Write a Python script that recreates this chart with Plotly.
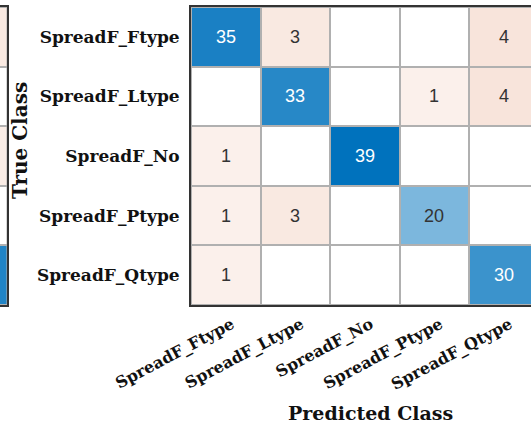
import plotly.graph_objects as go

# Confusion matrix for the spread-F classifier (rows: true, cols: predicted)
classes = ["SpreadF_Ftype", "SpreadF_Ltype", "SpreadF_No", "SpreadF_Ptype", "SpreadF_Qtype"]
counts = [
    [35, 3, 0, 0, 4],
    [0, 33, 0, 1, 4],
    [1, 0, 39, 0, 0],
    [1, 3, 0, 20, 0],
    [1, 0, 0, 0, 30],
]
# last column of the neighbouring matrix panel on the left
neighbour_last_col = [3, 0, 2, 0, 34]

W, H = 531, 430
left_px, top_px, bottom_px = 191, 7, 305
cell_w = 69.5

zmax = max(max(r) for r in counts)
blue_scale = [[0, "rgb(255,255,255)"], [1, "rgb(0,114,189)"]]
orange_scale = [
    [0.0, "rgb(255,255,255)"],
    [1 / zmax, "rgb(251,240,235)"],
    [3 / zmax, "rgb(249,233,225)"],
    [4 / zmax, "rgb(248,228,219)"],
    [1.0, "rgb(217,83,25)"],
]

n = len(classes)
diag = [[counts[i][j] if i == j else None for j in range(n)] for i in range(n)]
offd = [[counts[i][j] if i != j else None for j in range(n)] for i in range(n)]

fig = go.Figure()
common = dict(xgap=2, ygap=2, showscale=False, zmin=0, zmax=zmax, hoverinfo="skip")
fig.add_trace(go.Heatmap(z=offd, x=list(range(n)), y=list(range(n)),
                         colorscale=orange_scale, **common))
fig.add_trace(go.Heatmap(z=diag, x=list(range(n)), y=list(range(n)),
                         colorscale=blue_scale, **common))

# neighbour panel sliver
nb_off = [[v] if i < n - 1 else [None] for i, v in enumerate(neighbour_last_col)]
nb_diag = [[None] if i < n - 1 else [v] for i, v in enumerate(neighbour_last_col)]
fig.add_trace(go.Heatmap(z=nb_off, x=[0], y=list(range(n)), colorscale=orange_scale,
                         xaxis="x2", yaxis="y2", **common))
fig.add_trace(go.Heatmap(z=nb_diag, x=[0], y=list(range(n)), colorscale=blue_scale,
                         xaxis="x2", yaxis="y2", **common))

annotations = []
for i in range(n):
    for j in range(n):
        v = counts[i][j]
        if v == 0:
            continue
        dark = i == j and v / zmax > 0.6
        annotations.append(dict(
            x=j, y=i, xref="x", yref="y", text=str(v), showarrow=False,
            font=dict(family="Liberation Sans, Arial", size=18,
                      color="#ffffff" if dark else "#333333")))

serif = "DejaVu Serif"
annotations.append(dict(
    x=370 / W, y=(bottom_px - 413) / (bottom_px - top_px), xref="paper", yref="paper",
    text="<b>Predicted Class</b>", showarrow=False, font=dict(family=serif, size=19, color="#111"),
    xanchor="center", yanchor="middle"))
annotations.append(dict(
    x=20 / W, y=(bottom_px - 141) / (bottom_px - top_px), xref="paper", yref="paper",
    text="<b>True Class</b>", showarrow=False, textangle=-90,
    font=dict(family=serif, size=20, color="#111"), xanchor="center", yanchor="middle"))

axis_line = dict(showline=True, mirror=True, linecolor="#333333", linewidth=2,
                 showgrid=False, zeroline=False, layer="above traces", automargin=False)
x_end = -0.5 + (W - left_px) / cell_w
bold_classes = [f"<b>{c}</b>" for c in classes]

fig.update_layout(
    width=W, height=H,
    margin=dict(l=0, r=0, t=top_px, b=H - bottom_px),
    plot_bgcolor="#b0b0b0", paper_bgcolor="white",
    xaxis=dict(domain=[left_px / W, 1], range=[-0.5, x_end], tickvals=list(range(n)),
               ticktext=bold_classes, tickangle=-28, ticks="", ticklabelstandoff=2,
               ticklabelshift=6,
               tickfont=dict(family=serif, size=16, color="#111"), **axis_line),
    yaxis=dict(domain=[0, 1], range=[n - 0.5, -0.5], tickvals=list(range(n)),
               ticktext=bold_classes, ticks="", ticklabelstandoff=6,
               tickfont=dict(family=serif, size=17, color="#111"), **axis_line),
    xaxis2=dict(domain=[0, 7 / W], range=[0.4, 0.5], showticklabels=False, ticks="",
                anchor="y2", **axis_line),
    yaxis2=dict(domain=[0, 1], range=[n - 0.5, -0.5], showticklabels=False, ticks="",
                anchor="x2", **axis_line),
    annotations=annotations,
    showlegend=False,
)

fig.write_html("out.html")
